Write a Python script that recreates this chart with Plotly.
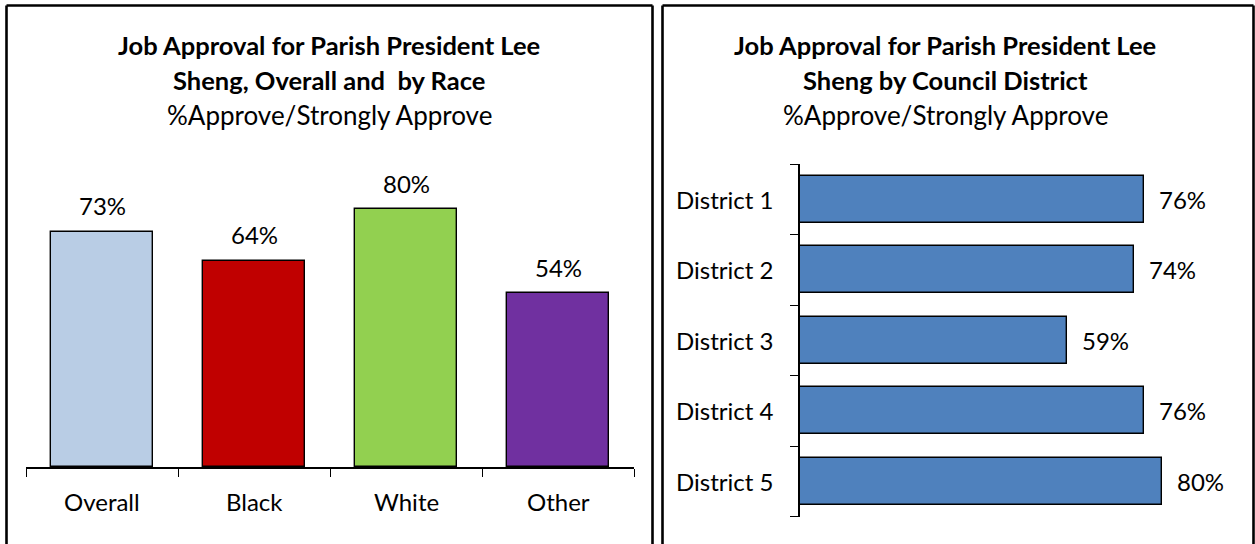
import plotly.graph_objects as go

# Job approval by race
race_labels = ["Overall", "Black", "White", "Other"]
race_values = [73, 64, 80, 54]
race_colors = ["#B9CDE5", "#C00000", "#92D050", "#7030A0"]

# Job approval by council district
district_labels = ["District 1", "District 2", "District 3", "District 4", "District 5"]
district_values = [76, 74, 59, 76, 80]
district_color = "#4F81BD"

left_title = ["Job Approval for Parish President Lee", "Sheng, Overall and  by Race"]
right_title = ["Job Approval for Parish President Lee", "Sheng by Council District"]
subtitle = "%Approve/Strongly Approve"

W, H = 1255, 544
FONT = "Lato, Carlito, Calibri, sans-serif"
LABEL_SIZE = 24


def px_x(v):
    return v / W


def px_y(v):
    # pixel row measured from the top -> paper fraction from the bottom
    return 1 - v / H


fig = go.Figure()

# Left panel: vertical bars
fig.add_trace(go.Bar(
    x=list(range(len(race_labels))), y=race_values,
    marker=dict(color=race_colors, line=dict(color="#000000", width=1.4)),
    width=0.667, xaxis="x", yaxis="y", showlegend=False, hoverinfo="skip",
))

# Right panel: horizontal bars
fig.add_trace(go.Bar(
    y=list(range(len(district_labels))), x=district_values, orientation="h",
    marker=dict(color=district_color, line=dict(color="#000000", width=1.4)),
    width=0.667, xaxis="x2", yaxis="y2", showlegend=False, hoverinfo="skip",
))

n_race = len(race_labels)
n_dist = len(district_labels)

fig.update_layout(
    width=W, height=H,
    margin=dict(l=0, r=0, t=0, b=0),
    paper_bgcolor="white", plot_bgcolor="white",
    font=dict(family=FONT, color="#000000"),
    bargap=0,
    xaxis=dict(
        domain=[px_x(26), px_x(634)], range=[-0.5, n_race - 0.5],
        tickmode="array", tickvals=[i - 0.5 for i in range(n_race + 1)],
        ticktext=[""] * (n_race + 1), ticks="outside", ticklen=8,
        tickcolor="#000000", tickwidth=1.4,
        showline=True, linecolor="#000000", linewidth=1.5,
        showgrid=False, zeroline=False, fixedrange=True,
    ),
    yaxis=dict(
        domain=[px_y(467), px_y(145)], range=[0, 100],
        visible=False, showgrid=False, zeroline=False, fixedrange=True,
    ),
    xaxis2=dict(
        domain=[px_x(800), px_x(1252)], range=[0, 100], anchor="y2",
        visible=False, showgrid=False, zeroline=False, fixedrange=True,
    ),
    yaxis2=dict(
        domain=[px_y(516.5), px_y(164)], range=[n_dist - 0.5, -0.5], anchor="x2",
        tickmode="array", tickvals=[i - 0.5 for i in range(n_dist + 1)],
        ticktext=[""] * (n_dist + 1), ticks="outside", ticklen=8,
        tickcolor="#000000", tickwidth=1.4,
        showline=True, linecolor="#000000", linewidth=1.5,
        showgrid=False, zeroline=False, fixedrange=True,
    ),
)

annotations = []

# Titles: two bold lines plus a regular subtitle line
for lines, cx in ((left_title, 329), (right_title, 945)):
    rows = [(f"<b>{lines[0]}</b>", 45), (f"<b>{lines[1]}</b>", 80), (subtitle, 115)]
    for i, (txt, cy) in enumerate(rows):
        annotations.append(dict(
            text=txt, xref="paper", yref="paper", x=px_x(cx), y=px_y(cy),
            xanchor="center", yanchor="middle", showarrow=False,
            font=dict(size=25.5 if i < 2 else 26, family=FONT),
        ))

# Left: value labels and category labels
for i, (lab, val) in enumerate(zip(race_labels, race_values)):
    annotations.append(dict(
        text=f"{val}%", x=i, y=val, xref="x", yref="y",
        xanchor="center", yanchor="middle", yshift=26, showarrow=False,
        font=dict(size=LABEL_SIZE, family=FONT),
    ))
    annotations.append(dict(
        text=lab, x=i, y=px_y(501), xref="x", yref="paper",
        xanchor="center", yanchor="middle", showarrow=False,
        font=dict(size=LABEL_SIZE, family=FONT),
    ))

# Right: value labels and category labels
for i, (lab, val) in enumerate(zip(district_labels, district_values)):
    annotations.append(dict(
        text=f"{val}%", x=val, y=i, xref="x2", yref="y2",
        xanchor="left", yanchor="middle", xshift=13, showarrow=False,
        font=dict(size=LABEL_SIZE, family=FONT),
    ))
    annotations.append(dict(
        text=lab, x=px_x(775), y=i, xref="paper", yref="y2",
        xanchor="right", yanchor="middle", showarrow=False,
        font=dict(size=LABEL_SIZE, family=FONT),
    ))

fig.update_layout(annotations=annotations)

# Panel borders (open at the bottom edge of the page)
shapes = []
for x0, x1 in ((6.5, 652.5), (662.5, 1253.5)):
    for (xa, ya, xb, yb) in ((x0, 5.5, x1, 5.5), (x0, 5.5, x0, 560), (x1, 5.5, x1, 560)):
        shapes.append(dict(
            type="line", xref="paper", yref="paper",
            x0=px_x(xa), y0=px_y(ya), x1=px_x(xb), y1=px_y(yb),
            line=dict(color="#000000", width=2.6),
        ))
fig.update_layout(shapes=shapes)

fig.write_html("out.html")
